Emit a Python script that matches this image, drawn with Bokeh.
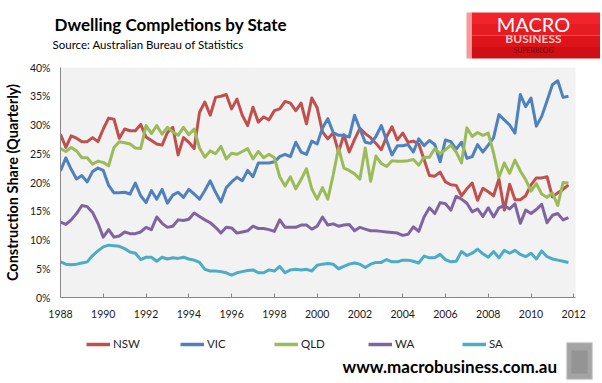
from bokeh.plotting import figure
from bokeh.layouts import column
from bokeh.models import (Range1d, FixedTicker, PrintfTickFormatter, Label,
                          BoxAnnotation, Legend, LegendItem, Plot)
from bokeh.embed import file_html
from bokeh.resources import INLINE

# ---------------- data (construction share, % of quarterly completions) ----------
start_year = 1988
n_quarters = 96
quarters = [start_year + i / 4 for i in range(n_quarters)]

nsw = [28.4, 26.1, 28.1, 27.7, 27.1, 27.1, 27.8, 27.1, 29.3, 31.2, 31.0, 27.7, 29.3, 29.0, 29.0, 30.1,
       27.9, 27.3, 26.7, 26.5, 28.7, 29.6, 24.8, 27.8, 27.0, 25.9, 32.2, 34.0, 31.7, 34.8, 35.0, 35.3,
       32.8, 34.5, 31.7, 29.9, 33.1, 30.5, 31.4, 30.9, 32.5, 32.8, 34.1, 33.8, 32.5, 33.8, 30.2, 34.7,
       33.0, 28.8, 27.6, 28.6, 25.3, 28.3, 25.3, 27.5, 29.4, 28.5, 27.8, 26.8, 25.7, 28.0, 29.7, 27.4,
       28.6, 27.0, 27.2, 26.7, 24.0, 21.2, 21.1, 21.8, 20.1, 19.6, 19.5, 17.7, 18.9, 19.9, 16.9, 19.0,
       18.4, 17.7, 20.6, 15.2, 19.7, 17.0, 17.0, 17.7, 19.6, 20.8, 20.8, 21.0, 17.5, 18.2, 18.8, 19.6]

vic = [22.0, 24.3, 22.3, 20.6, 21.2, 20.1, 21.9, 22.5, 22.1, 19.5, 18.2, 18.2, 18.3, 18.0, 19.9, 17.7,
       16.5, 18.6, 17.1, 18.8, 16.4, 17.8, 18.3, 17.4, 18.8, 18.0, 17.1, 18.6, 20.3, 18.3, 16.6, 19.1,
       20.1, 20.9, 20.3, 22.1, 21.0, 23.4, 23.4, 23.4, 23.6, 24.5, 24.9, 24.5, 27.0, 25.3, 24.9, 27.2,
       26.7, 29.5, 31.1, 28.7, 28.2, 28.2, 27.9, 31.7, 29.3, 27.0, 26.8, 28.0, 29.9, 27.3, 24.8, 26.4,
       26.4, 26.6, 25.3, 27.6, 26.4, 27.3, 26.6, 23.6, 27.4, 27.1, 25.8, 27.0, 24.2, 24.5, 26.6, 25.3,
       26.5, 27.8, 31.8, 30.9, 30.0, 28.6, 35.3, 33.2, 34.7, 29.8, 31.5, 34.2, 37.0, 37.7, 34.8, 35.0]

qld = [25.9, 25.4, 26.1, 25.5, 24.3, 24.3, 23.2, 23.7, 23.5, 22.9, 26.1, 27.1, 26.9, 26.7, 26.0, 25.9,
       29.9, 28.5, 29.9, 28.4, 29.6, 28.8, 28.2, 29.6, 28.3, 29.3, 26.0, 24.4, 25.5, 25.0, 26.3, 24.1,
       25.1, 24.9, 25.4, 25.9, 24.1, 25.4, 24.3, 24.9, 24.3, 21.0, 19.4, 21.0, 18.9, 20.5, 22.4, 18.9,
       17.1, 19.1, 17.1, 21.3, 26.0, 22.5, 22.1, 21.5, 20.6, 26.0, 20.2, 24.6, 23.3, 22.8, 23.8, 23.7,
       23.7, 23.8, 24.0, 23.0, 24.4, 24.4, 25.9, 25.0, 25.7, 26.5, 25.3, 23.4, 29.5, 28.0, 28.7, 28.2,
       28.6, 25.1, 20.9, 23.4, 21.6, 23.9, 22.0, 20.5, 18.5, 19.8, 18.0, 17.4, 18.2, 16.0, 20.0, 19.9]

wa = [13.1, 12.7, 13.5, 14.6, 16.0, 15.8, 14.8, 12.9, 10.5, 11.8, 10.5, 10.7, 11.4, 11.1, 11.1, 11.4,
      12.2, 11.8, 14.0, 12.9, 12.2, 12.4, 13.5, 13.4, 13.6, 14.7, 14.1, 13.5, 13.0, 12.2, 11.2, 12.2,
      12.1, 11.2, 11.4, 11.6, 12.4, 12.0, 12.0, 11.8, 11.5, 13.5, 12.2, 12.2, 12.2, 12.6, 12.6, 11.9,
      12.4, 14.0, 12.6, 12.8, 12.4, 12.6, 12.7, 11.6, 12.2, 11.9, 11.6, 11.6, 11.5, 11.4, 11.3, 11.2,
      10.8, 11.0, 12.3, 11.5, 14.0, 15.6, 14.6, 16.5, 16.3, 15.2, 17.6, 17.1, 16.4, 14.9, 15.4, 14.1,
      15.6, 14.0, 15.6, 16.0, 15.4, 16.3, 12.9, 15.2, 14.6, 15.3, 16.2, 13.0, 14.3, 14.6, 13.5, 13.9]

sa = [6.2, 5.8, 5.7, 5.8, 6.0, 6.2, 7.3, 8.1, 8.8, 9.1, 9.0, 8.9, 8.5, 7.9, 7.7, 6.6,
      7.0, 7.0, 6.3, 7.0, 6.7, 6.9, 6.8, 7.0, 6.7, 6.5, 6.1, 4.9, 4.6, 4.6, 4.5, 4.3,
      3.9, 4.3, 4.5, 4.7, 4.8, 4.3, 4.3, 4.8, 4.6, 5.4, 4.3, 4.8, 4.9, 4.8, 4.9, 4.6,
      5.6, 5.8, 5.9, 5.8, 5.0, 5.4, 5.8, 6.0, 5.8, 5.2, 5.8, 6.1, 6.1, 6.6, 6.2, 6.2,
      6.5, 6.5, 6.3, 6.0, 7.2, 6.9, 6.9, 7.5, 6.6, 6.2, 6.3, 8.0, 7.3, 7.7, 8.4, 7.6,
      7.0, 8.0, 6.9, 8.2, 7.7, 8.2, 7.5, 7.1, 7.7, 6.7, 8.1, 7.1, 6.7, 6.5, 6.3, 6.1]

series_names = ["NSW", "VIC", "QLD", "WA", "SA"]
series_values = [nsw, vic, qld, wa, sa]
series_colors = ["#c0504d", "#4f81bd", "#9bbb59", "#8064a2", "#4bacc6"]

x_tick_years = list(range(1988, 2013, 2))
y_tick_values = list(range(0, 41, 5))

title_text = "Dwelling Completions by State"
subtitle_text = "Source:  Australian Bureau of Statistics"
y_axis_title = "Construction Share (Quarterly)"
url_text = "www.macrobusiness.com.au"

FONT = "Lato"
W = 600
HAS_FRAME_ALIGN = "frame_align" in Plot.properties()


def no_align(f):
    if HAS_FRAME_ALIGN:
        f.frame_align = False


def blank(height, x_range=None, y_range=None):
    f = figure(width=W, height=height, output_backend="svg", toolbar_location=None,
               x_range=x_range or Range1d(0, 1), y_range=y_range or Range1d(0, 1),
               x_axis_type=None, y_axis_type=None, min_border=0,
               background_fill_color="white", border_fill_color="white")
    f.outline_line_color = None
    f.grid.visible = False
    no_align(f)
    return f


def scr(**kw):
    return dict(x_units="screen", y_units="screen", **kw)


def box(left, right, bottom, top, **kw):
    return BoxAnnotation(left=left, right=right, bottom=bottom, top=top,
                         left_units="screen", right_units="screen",
                         bottom_units="screen", top_units="screen", **kw)


# ---------------- header: title, source, logo ----------------
head = blank(61)
head.add_layout(Label(**scr(x=54, y=37, text=title_text, text_font=FONT,
                            text_font_style="bold", text_font_size="17px",
                            text_color="#000000", text_baseline="alphabetic")))
head.add_layout(Label(**scr(x=52, y=17, text=subtitle_text, text_font=FONT,
                            text_font_size="11.5px", text_color="#000000",
                            text_baseline="alphabetic")))
logo_bands = ["#f0242a", "#e71c22", "#dd151b", "#cf0f15"]
for i, c in enumerate(logo_bands):
    top = 49 - i * 11.5
    head.add_layout(box(471, 600, top - 11.5, top, fill_color=c, fill_alpha=1,
                        line_color=None))
head.add_layout(box(466, 471, 3, 49, fill_color="#f49a9d", fill_alpha=1, line_color=None))
head.add_layout(Label(**scr(x=533, y=38, text="MACRO", text_font=FONT,
                            text_font_size="20px", text_color="#ffffff",
                            text_align="center", text_baseline="alphabetic")))
head.add_layout(Label(**scr(x=533, y=23, text="BUSINESS", text_font=FONT,
                            text_font_style="bold", text_font_size="12px",
                            text_color="#f7c9c9", text_align="center",
                            text_baseline="alphabetic")))
head.add_layout(Label(**scr(x=533, y=12, text="SUPERBLOG", text_font=FONT,
                            text_font_size="7px", text_color="#7a0508",
                            text_align="center", text_baseline="alphabetic")))

# ---------------- main chart ----------------
p = figure(width=W, height=266, output_backend="svg", toolbar_location=None,
           x_range=Range1d(1988, 2012.08), y_range=Range1d(0, 40),
           min_border_left=56, min_border_right=25, min_border_top=6,
           min_border_bottom=30,
           background_fill_color="#f2f2f2", border_fill_color="white")
p.outline_line_color = None
p.grid.visible = False
no_align(p)

p.xaxis.ticker = FixedTicker(ticks=x_tick_years)
p.xaxis.major_tick_in = 4
p.xaxis.major_tick_out = 0
p.xaxis.minor_tick_line_color = None
p.xaxis.axis_line_color = "#868686"
p.xaxis.major_tick_line_color = "#868686"
p.xaxis.major_label_text_font = FONT
p.xaxis.major_label_text_font_size = "10.5px"
p.xaxis.major_label_text_color = "#1a1a1a"
p.xaxis.major_label_standoff = 12

p.yaxis.ticker = FixedTicker(ticks=y_tick_values)
p.yaxis.formatter = PrintfTickFormatter(format="%d%%")
p.yaxis.major_tick_in = 0
p.yaxis.major_tick_out = 0
p.yaxis.minor_tick_line_color = None
p.yaxis.axis_line_color = "#868686"
p.yaxis.major_label_text_font = FONT
p.yaxis.major_label_text_font_size = "10.5px"
p.yaxis.major_label_text_color = "#1a1a1a"
p.yaxis.major_label_standoff = 10
p.yaxis.axis_label = y_axis_title
p.yaxis.axis_label_text_font = FONT
p.yaxis.axis_label_text_font_style = "bold"
p.yaxis.axis_label_text_font_size = "14.5px"
p.yaxis.axis_label_text_color = "#000000"
p.yaxis.axis_label_standoff = 6

for name, vals, col in zip(series_names, series_values, series_colors):
    p.line(quarters, vals, line_color=col, line_width=3, line_join="round")

# ---------------- footer: legend, url, badge ----------------
# legend samples: same series on the footer's own (out-of-view) scale
foot = blank(54, x_range=Range1d(1988, 2012.08), y_range=Range1d(100, 101))
items = []
for name, vals, col in zip(series_names, series_values, series_colors):
    r = foot.line(quarters, vals, line_color=col, line_width=3.5)
    items.append(LegendItem(label=name, renderers=[r]))
legend = Legend(items=items, orientation="horizontal", location=(86, 31),
                padding=0, margin=0, spacing=8, glyph_width=24, glyph_height=12,
                label_height=12, label_width=59, label_standoff=3,
                border_line_color=None, background_fill_alpha=0,
                label_text_font=FONT, label_text_font_size="11.5px",
                label_text_color="#262626")
foot.add_layout(legend)
foot.add_layout(Label(**scr(x=342, y=15, text=url_text, text_font=FONT,
                            text_font_style="bold", text_font_size="17px",
                            text_color="#000000", text_baseline="alphabetic")))
foot.add_layout(box(566, 592, 2, 39, fill_color="#a4a4a4", fill_alpha=1,
                    line_color="#dadada", line_width=2))
foot.add_layout(box(571, 587, 8, 31, fill_color="#8a8a8a", fill_alpha=0.6,
                    line_color=None))

layout = column(head, p, foot, spacing=0)
open("out.html", "w").write(file_html(layout, INLINE))
